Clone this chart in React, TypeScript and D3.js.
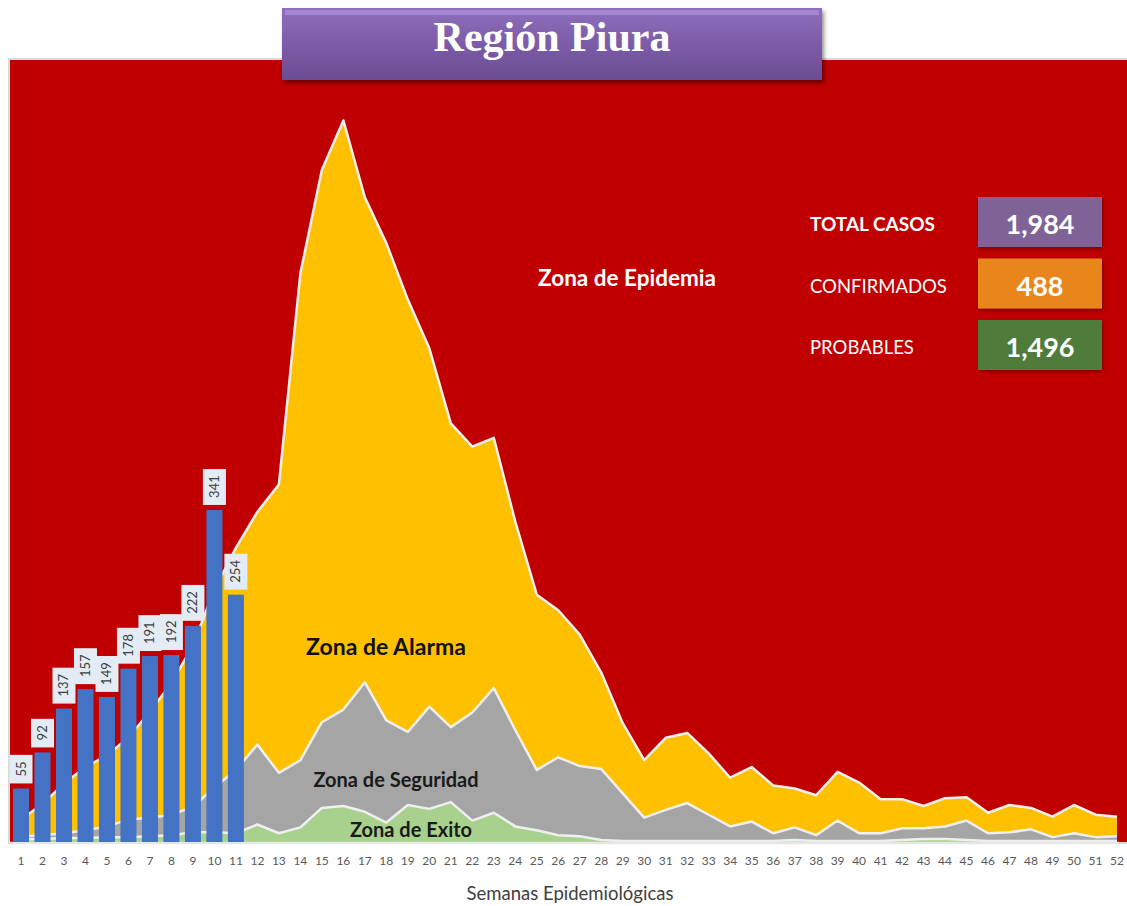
import React, { useEffect, useRef } from 'react'
import * as d3 from 'd3'

// semanas epidemiologicas
const weeks = [
  1, 2, 3, 4, 5, 6, 7, 8, 9, 10, 11, 12, 13, 14, 15, 16, 17, 18, 19, 20, 21, 22, 23, 24, 25, 26,
  27, 28, 29, 30, 31, 32, 33, 34, 35, 36, 37, 38, 39, 40, 41, 42, 43, 44, 45, 46, 47, 48, 49, 50,
  51, 52,
]

// casos notificados (semanas 1 a 11)
const casos = [55, 92, 137, 157, 149, 178, 191, 192, 222, 341, 254]

// canal endemico: limites de cada zona
const exito = [
  3, 3, 4, 4, 5, 5, 6, 7, 10, 10, 9, 18, 9, 15, 35, 37, 31, 20, 38, 34, 41, 22, 30, 16, 12, 7, 6, 2,
  1, 1, 1, 1, 1, 1, 1, 1, 2, 1, 1, 1, 1, 2, 3, 3, 2, 1, 1, 1, 1, 1, 1, 1,
]
const seguridad = [
  6, 7, 9, 12, 16, 23, 25, 28, 36, 56, 74, 100, 71, 84, 123, 136, 164, 125, 113, 139, 118, 133, 158,
  115, 74, 87, 78, 75, 50, 25, 33, 40, 28, 16, 21, 9, 15, 7, 22, 9, 9, 14, 14, 16, 22, 9, 10, 13, 5,
  9, 5, 6,
]
const alarma = [
  23, 39, 60, 77, 89, 107, 134, 163, 202, 259, 302, 339, 367, 584, 690, 741, 662, 615, 557, 507,
  430, 406, 415, 329, 254, 238, 213, 174, 122, 84, 107, 112, 91, 66, 77, 58, 55, 48, 72, 61, 44, 44,
  37, 45, 46, 30, 38, 35, 26, 38, 28, 26,
]

const resumen = [
  { label: 'TOTAL CASOS', value: '1,984', color: '#7f6396', bold: true },
  { label: 'CONFIRMADOS', value: '488', color: '#e8861e', bold: false },
  { label: 'PROBABLES', value: '1,496', color: '#4f7b3b', bold: false },
]

const font = 'Lato, "Open Sans", sans-serif'

const App = () => {
  const svgRef = useRef<SVGSVGElement>(null)

  useEffect(() => {
    const W = 1127
    const H = 906
    const base = 842

    const svg = d3.select(svgRef.current).attr('width', W).attr('height', H)
    svg.selectAll('*').remove()

    const defs = svg.append('defs')
    const shadow = defs.append('filter').attr('id', 'sh').attr('x', '-10%').attr('y', '-20%')
      .attr('width', '130%').attr('height', '160%')
    shadow.append('feDropShadow').attr('dx', 2).attr('dy', 3).attr('stdDeviation', 2)
      .attr('flood-color', '#000').attr('flood-opacity', 0.45)

    const glow = defs.append('filter').attr('id', 'glow').attr('x', '-10%').attr('y', '-20%')
      .attr('width', '130%').attr('height', '150%')
    glow.append('feDropShadow').attr('dx', 1).attr('dy', 2).attr('stdDeviation', 2)
      .attr('flood-color', '#600').attr('flood-opacity', 0.7)

    const grad = defs.append('linearGradient').attr('id', 'tg')
      .attr('x1', 0).attr('y1', 0).attr('x2', 0).attr('y2', 1)
    grad.append('stop').attr('offset', '0%').attr('stop-color', '#8e6fbd')
    grad.append('stop').attr('offset', '50%').attr('stop-color', '#7c5ca8')
    grad.append('stop').attr('offset', '100%').attr('stop-color', '#6a4d92')

    // scales
    const x = d3.scalePoint<number>().domain(weeks).range([21, 1117])
    const y = d3.scaleLinear().domain([0, 800]).range([base, 63])

    // plot area (zona de epidemia)
    svg.append('rect')
      .attr('x', 8).attr('y', 58).attr('width', W).attr('height', base - 56)
      .attr('fill', '#d9d9d9')
    svg.append('rect')
      .attr('x', 10).attr('y', 60).attr('width', W - 10).attr('height', base - 60)
      .attr('fill', '#c00000')

    const zones = [
      { data: alarma, color: '#ffc000' },
      { data: seguridad, color: '#a5a5a5' },
      { data: exito, color: '#a9d18e' },
    ]

    zones.forEach((z) => {
      const area = d3.area<number>()
        .x((d, i) => x(weeks[i]) as number)
        .y0(base)
        .y1((d) => y(d))
      svg.append('path').datum(z.data).attr('d', area).attr('fill', z.color)
    })

    zones.forEach((z) => {
      const line = d3.line<number>()
        .x((d, i) => x(weeks[i]) as number)
        .y((d) => y(d))
      svg.append('path').datum(z.data).attr('d', line)
        .attr('fill', 'none').attr('stroke', '#efefef').attr('stroke-width', 2.5)
        .attr('stroke-linejoin', 'round')
    })

    // baseline
    svg.append('line')
      .attr('x1', 10).attr('x2', 1119).attr('y1', base + 1).attr('y2', base + 1)
      .attr('stroke', '#e6e6e6').attr('stroke-width', 2.5)

    // bars
    const barW = 16
    svg.selectAll('.bar')
      .data(casos)
      .enter()
      .append('rect')
      .attr('class', 'bar')
      .attr('x', (d, i) => (x(weeks[i]) as number) - barW / 2)
      .attr('y', (d) => y(d))
      .attr('width', barW)
      .attr('height', (d) => base - y(d))
      .attr('fill', '#4472c4')

    // bar labels (rotated)
    const lab = svg.selectAll('.lab')
      .data(casos)
      .enter()
      .append('g')
      .attr('class', 'lab')
      .attr('transform', (d, i) => `translate(${x(weeks[i])},${y(d) - 5}) rotate(-90)`)

    lab.append('rect')
      .attr('x', 0)
      .attr('y', -11.5)
      .attr('width', (d) => String(d).length * 7.3 + 14)
      .attr('height', 23)
      .attr('fill', '#e3ebf4')

    lab.append('text')
      .text((d) => d)
      .attr('x', 7)
      .attr('y', 4.5)
      .style('font-family', font)
      .style('font-size', '13px')
      .attr('fill', '#404040')

    // x axis labels
    svg.selectAll('.tick')
      .data(weeks)
      .enter()
      .append('text')
      .attr('class', 'tick')
      .text((d) => d)
      .attr('x', (d) => x(d) as number)
      .attr('y', 865)
      .attr('text-anchor', 'middle')
      .style('font-family', font)
      .style('font-size', '12px')
      .attr('fill', '#595959')

    svg.append('text')
      .text('Semanas Epidemiológicas')
      .attr('x', 570).attr('y', 900)
      .attr('text-anchor', 'middle')
      .style('font-family', font)
      .style('font-size', '18.5px')
      .attr('fill', '#404040')

    // zone names
    const zoneText = [
      { t: 'Zona de Epidemia', x: 627, y: 286, size: 22.5, color: '#ffffff' },
      { t: 'Zona de Alarma', x: 386, y: 655, size: 23, color: '#111111' },
      { t: 'Zona de Seguridad', x: 396, y: 787, size: 20, color: '#1a1a1a' },
      { t: 'Zona de Exito', x: 411, y: 837, size: 20, color: '#1a1a1a' },
    ]
    svg.selectAll('.zt')
      .data(zoneText)
      .enter()
      .append('text')
      .attr('class', 'zt')
      .text((d) => d.t)
      .attr('x', (d) => d.x)
      .attr('y', (d) => d.y)
      .attr('text-anchor', 'middle')
      .style('font-family', font)
      .style('font-weight', 'bold')
      .style('font-size', (d) => `${d.size}px`)
      .attr('fill', (d) => d.color)

    // resumen de casos
    const rs = svg.selectAll('.rs')
      .data(resumen)
      .enter()
      .append('g')
      .attr('class', 'rs')
      .attr('transform', (d, i) => `translate(0,${197 + i * 61.5})`)

    rs.append('text')
      .text((d) => d.label)
      .attr('x', 810).attr('y', 34)
      .style('font-family', font)
      .style('font-size', (d) => (d.bold ? '19px' : '18.5px'))
      .style('font-weight', (d) => (d.bold ? 'bold' : 'normal'))
      .attr('fill', '#ffffff')

    rs.append('rect')
      .attr('x', 978).attr('y', 0).attr('width', 124).attr('height', 50)
      .attr('fill', (d) => d.color)
      .attr('filter', 'url(#glow)')

    rs.append('text')
      .text((d) => d.value)
      .attr('x', 1040).attr('y', 37)
      .attr('text-anchor', 'middle')
      .style('font-family', font)
      .style('font-size', '27px')
      .style('font-weight', 'bold')
      .attr('fill', '#ffffff')

    // title box
    svg.append('rect')
      .attr('x', 282).attr('y', 8).attr('width', 540).attr('height', 72)
      .attr('fill', 'url(#tg)')
      .attr('filter', 'url(#sh)')
    svg.append('rect')
      .attr('x', 285).attr('y', 10).attr('width', 534).attr('height', 5)
      .attr('fill', '#b49be0').attr('opacity', 0.6)
    svg.append('text')
      .text('Región Piura')
      .attr('x', 552).attr('y', 51)
      .attr('text-anchor', 'middle')
      .style('font-family', '"Liberation Serif", "Times New Roman", serif')
      .style('font-weight', 'bold')
      .style('font-size', '42px')
      .attr('fill', '#ffffff')
  }, [])

  return (
    <div style={{ position: 'absolute', left: 0, top: 0, background: '#fff' }}>
      <svg ref={svgRef}></svg>
    </div>
  )
}

export default App
